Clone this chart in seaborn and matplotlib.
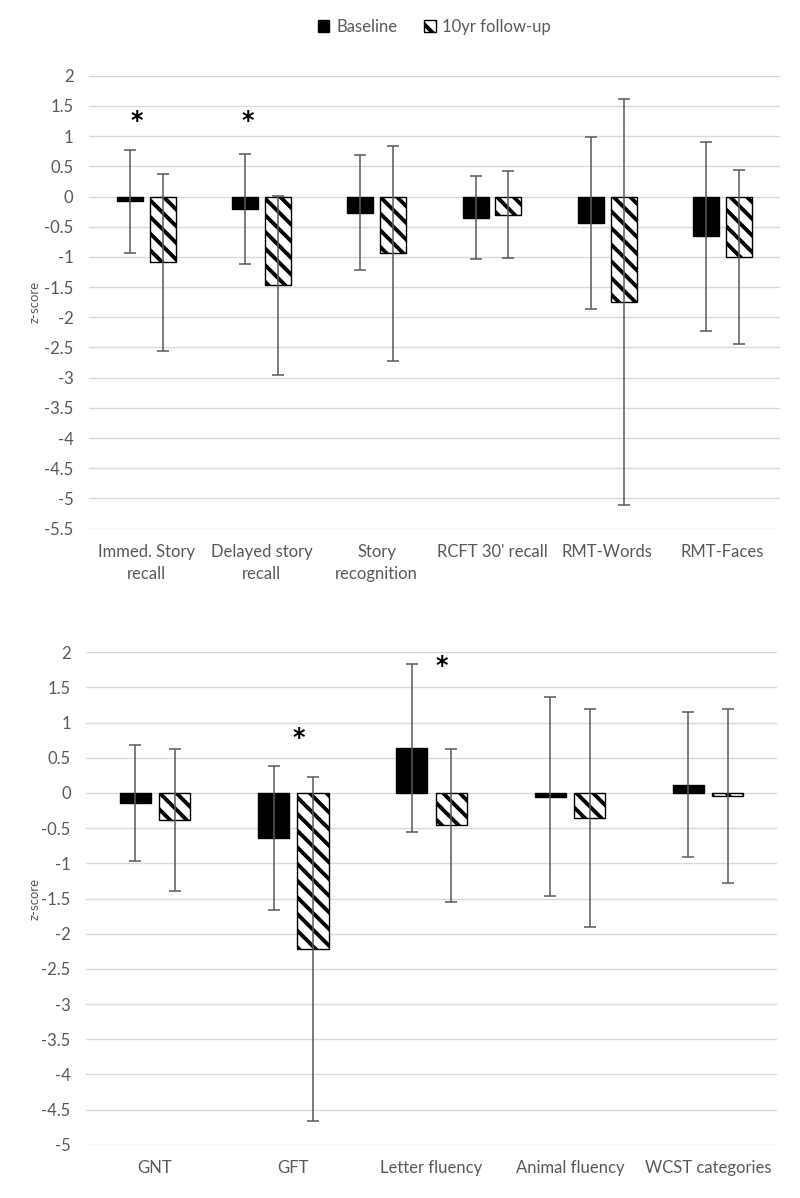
import numpy as np
import pandas as pd
import matplotlib
matplotlib.use("Agg")
import matplotlib.pyplot as plt
import seaborn as sns
from matplotlib.patches import Patch

# memory tests (top panel)
tests_top = ["Immed. Story\nrecall", "Delayed story\nrecall", "Story\nrecognition",
             "RCFT 30' recall", "RMT-Words", "RMT-Faces"]
base_top = [-0.08, -0.21, -0.27, -0.35, -0.44, -0.66]
base_top_sd = [0.85, 0.91, 0.95, 0.69, 1.43, 1.57]
follow_top = [-1.09, -1.47, -0.94, -0.30, -1.74, -1.00]
follow_top_sd = [1.46, 1.48, 1.78, 0.72, 3.36, 1.44]

# language / executive tests (bottom panel)
tests_bot = ["GNT", "GFT", "Letter fluency", "Animal fluency", "WCST categories"]
base_bot = [-0.14, -0.64, 0.64, -0.05, 0.12]
base_bot_sd = [0.82, 1.02, 1.19, 1.42, 1.03]
follow_bot = [-0.39, -2.22, -0.46, -0.35, -0.04]
follow_bot_sd = [1.01, 2.45, 1.09, 1.55, 1.24]

# significance stars: (category index, shift from category centre, z height)
stars_top = [(0, -0.08, 1.25), (1, -0.12, 1.25)]
stars_bot = [(1, 0.04, 0.78), (2, 0.07, 1.80)]

groups = ["Baseline", "10yr follow-up"]
grey = "#595959"

sns.set_style("white")
plt.rcParams["font.family"] = ["Lato", "DejaVu Sans"]
plt.rcParams["hatch.linewidth"] = 2.8


def panel(ax, tests, base, base_sd, follow, follow_sd, ymin, stars):
    df = pd.DataFrame({
        "test": tests + tests,
        "time": [groups[0]] * len(tests) + [groups[1]] * len(tests),
        "z": base + follow,
    })
    sns.barplot(data=df, x="test", y="z", hue="time", hue_order=groups,
                palette=["black", "white"], errorbar=None, width=0.57, gap=0.21,
                edgecolor="black", linewidth=1, legend=False, ax=ax, zorder=2)
    for bar in ax.containers[1]:
        bar.set_hatch("\\\\")
    for cont, m, sd in zip(ax.containers, [base, follow], [base_sd, follow_sd]):
        xs = [b.get_x() + b.get_width() / 2 for b in cont]
        ax.errorbar(xs, m, yerr=sd, fmt="none", ecolor=grey, elinewidth=1.1,
                    capsize=4, capthick=1.1, zorder=3)
    for i, dx, y in stars:
        ax.text(i + dx, y, "*", ha="center", va="center", fontsize=17,
                fontweight="bold", family="DejaVu Sans", color="black")
    ticks = np.arange(ymin, 2.01, 0.5)
    ax.set_yticks(ticks)
    ax.set_yticklabels([f"{t:g}" for t in ticks])
    ax.set_ylim(ymin, 2)
    ax.set_xlim(-0.5, len(tests) - 0.5)
    ax.yaxis.grid(True, color="#d9d9d9", linewidth=1)
    ax.xaxis.grid(False)
    ax.set_axisbelow(True)
    sns.despine(ax=ax, left=True, bottom=True)
    ax.tick_params(length=0, labelcolor=grey, labelsize=12, pad=11)
    ax.set_xlabel("")
    ax.set_ylabel("z-score", fontsize=9.5, color=grey)


fig = plt.figure(figsize=(8, 11.98), dpi=100)
ax1 = fig.add_axes([0.111, 0.5587, 0.864, 0.3781])
ax2 = fig.add_axes([0.1075, 0.0445, 0.864, 0.411])

panel(ax1, tests_top, base_top, base_top_sd, follow_top, follow_top_sd, -5.5, stars_top)
panel(ax2, tests_bot, base_bot, base_bot_sd, follow_bot, follow_bot_sd, -5, stars_bot)
ax1.yaxis.set_label_coords(-0.07, 0.5)
ax2.yaxis.set_label_coords(-0.066, 0.5)
for lab in ax1.get_xticklabels():
    lab.set_linespacing(1.45)

handles = [Patch(facecolor="black", edgecolor="black"),
           Patch(facecolor="white", edgecolor="black", hatch="\\\\")]
fig.legend(handles, groups, loc="center", bbox_to_anchor=(0.543, 0.9775), ncol=2,
           frameon=False, handlelength=0.7, handleheight=0.7, handletextpad=0.4,
           columnspacing=1.6, fontsize=12, labelcolor=grey)

fig.savefig("out.png", dpi=100)
